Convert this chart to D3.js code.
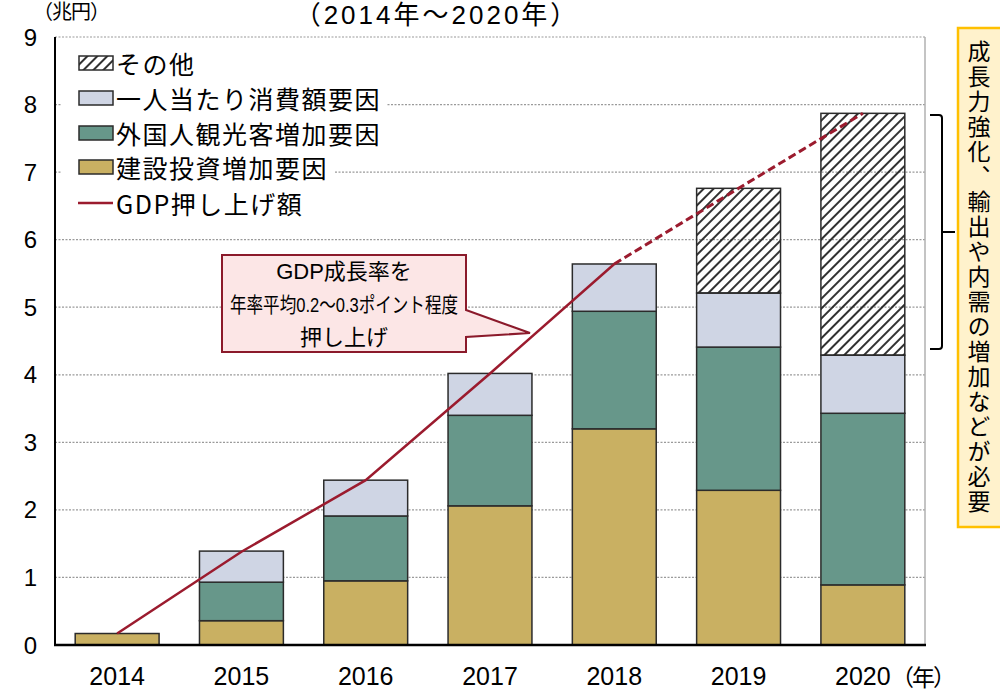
<!DOCTYPE html>
<html lang="ja">
<head>
<meta charset="utf-8">
<script src="https://cdn.jsdelivr.net/npm/d3@7"></script>
<style>
  html, body { margin: 0; padding: 0; background: #fff; }
  svg { display: block; font-family: "Liberation Sans", Arial, "Noto Sans CJK JP", sans-serif; }
</style>
</head>
<body>
<svg id="chart" width="1000" height="693"></svg>
<script>
// 年別の内訳（兆円）
const years = ["2014", "2015", "2016", "2017", "2018", "2019", "2020"];
const construction = [0.17, 0.36, 0.95, 2.06, 3.20, 2.29, 0.89];   // 建設投資増加要因
const visitors     = [0.00, 0.57, 0.96, 1.34, 1.74, 2.12, 2.54];   // 外国人観光客増加要因
const perCapita    = [0.00, 0.46, 0.53, 0.62, 0.70, 0.80, 0.86];   // 一人当たり消費額要因
const others       = [0.00, 0.00, 0.00, 0.00, 0.00, 1.55, 3.58];   // その他
const gdpBoost     = [0.17, 1.38, 2.44, 4.02, 5.64, 6.76, 7.87];   // GDP押し上げ額
const yTicks = [0, 1, 2, 3, 4, 5, 6, 7, 8, 9];

const seriesKeys = ["construction", "visitors", "perCapita", "others"];
const seriesNames = {
  construction: "建設投資増加要因",
  visitors: "外国人観光客増加要因",
  perCapita: "一人当たり消費額要因",
  others: "その他"
};
const fills = {
  construction: "#C9B062",
  visitors: "#67978A",
  perCapita: "#CFD5E4",
  others: "url(#hatch)"
};

const rows = years.map((y, i) => ({
  year: y,
  construction: construction[i],
  visitors: visitors[i],
  perCapita: perCapita[i],
  others: others[i]
}));

const svg = d3.select("#chart");
const jp = '"Noto Sans CJK JP", "Liberation Sans", sans-serif';
const lat = '"Liberation Sans", Arial, "Noto Sans CJK JP", sans-serif';

const plot = { left: 55, right: 925, top: 37, bottom: 645 };

const x = d3.scaleBand().domain(years)
  .range([plot.left, plot.right])
  .paddingInner(0.325).paddingOuter(0.1625);
const y = d3.scaleLinear().domain([0, 9]).range([plot.bottom, plot.top]);

// 斜線パターン
const defs = svg.append("defs");
defs.append("pattern")
  .attr("id", "hatch")
  .attr("patternUnits", "userSpaceOnUse")
  .attr("width", 7).attr("height", 7)
  .attr("patternTransform", "rotate(45)")
  .append("line")
  .attr("x1", 1).attr("y1", 0).attr("x2", 1).attr("y2", 7)
  .attr("stroke", "#1a1a1a").attr("stroke-width", 1.8);

// 目盛線（点線）
svg.append("g").selectAll("line").data(yTicks.filter(d => d > 0)).join("line")
  .attr("x1", plot.left).attr("x2", plot.right)
  .attr("y1", d => y(d)).attr("y2", d => y(d))
  .attr("stroke", "#9a9a9a").attr("stroke-width", 1.2)
  .attr("stroke-dasharray", "2,1.5");

// 右枠
svg.append("line")
  .attr("x1", plot.right).attr("x2", plot.right)
  .attr("y1", plot.top).attr("y2", plot.bottom)
  .attr("stroke", "#b0b0b0").attr("stroke-width", 1.5);

// 積み上げ棒
const stack = d3.stack().keys(seriesKeys)(rows);
svg.append("g").selectAll("g").data(stack).join("g")
  .attr("fill", d => fills[d.key])
  .selectAll("rect").data(d => d.filter(p => p[1] - p[0] > 0)).join("rect")
  .attr("x", d => x(d.data.year))
  .attr("width", x.bandwidth())
  .attr("y", d => y(d[1]))
  .attr("height", d => y(d[0]) - y(d[1]))
  .attr("stroke", "#2b2b2b").attr("stroke-width", 1.5);

// 軸
svg.append("line")
  .attr("x1", plot.left).attr("x2", plot.left)
  .attr("y1", plot.top).attr("y2", plot.bottom)
  .attr("stroke", "#000").attr("stroke-width", 2);
svg.append("line")
  .attr("x1", plot.left - 1).attr("x2", plot.right + 1)
  .attr("y1", plot.bottom).attr("y2", plot.bottom)
  .attr("stroke", "#000").attr("stroke-width", 2.5);

svg.append("g").selectAll("text").data(yTicks).join("text")
  .attr("x", 37).attr("y", d => y(d))
  .attr("text-anchor", "end").attr("dominant-baseline", "central")
  .attr("font-family", lat).attr("font-size", 24).attr("fill", "#000")
  .text(d => d);

svg.append("g").selectAll("text").data(years).join("text")
  .attr("x", d => x(d) + x.bandwidth() / 2).attr("y", 676)
  .attr("text-anchor", "middle").attr("dominant-baseline", "central")
  .attr("font-family", lat).attr("font-size", 25).attr("fill", "#000")
  .text(d => d);

svg.append("text")
  .attr("x", 891).attr("y", 676).attr("dominant-baseline", "central")
  .attr("font-family", jp).attr("font-size", 23).attr("letter-spacing", -2)
  .text("（年）");

svg.append("text")
  .attr("x", 33).attr("y", 19)
  .attr("font-family", lat).attr("font-size", 20).attr("letter-spacing", -1)
  .text("（兆円）");

svg.append("text")
  .attr("x", 437).attr("y", 24).attr("text-anchor", "middle")
  .attr("font-family", lat).attr("font-size", 26).attr("letter-spacing", 3)
  .text("（2014年～2020年）");

// GDP押し上げ額の線（2018年までは実線、以降は破線）
const line = d3.line()
  .x(d => x(d.year) + x.bandwidth() / 2)
  .y(d => y(d.v));
const gdpPts = years.map((yr, i) => ({ year: yr, v: gdpBoost[i] }));
const split = years.indexOf("2018");
svg.append("path")
  .datum(gdpPts.slice(0, split + 1))
  .attr("d", line).attr("fill", "none")
  .attr("stroke", "#9B1B2E").attr("stroke-width", 2.5);
svg.append("path")
  .datum(gdpPts.slice(split))
  .attr("d", line).attr("fill", "none")
  .attr("stroke", "#9B1B2E").attr("stroke-width", 3)
  .attr("stroke-dasharray", "8,4");

// 凡例
const legendItems = [
  { key: "others", label: seriesNames.others },
  { key: "perCapita", label: seriesNames.perCapita },
  { key: "visitors", label: seriesNames.visitors },
  { key: "construction", label: seriesNames.construction },
  { key: "line", label: "GDP押し上げ額" }
];
const legendY = [63, 98, 133, 167, 203];
const lg = svg.append("g");
legendItems.forEach((it, i) => {
  const g = lg.append("g").attr("transform", `translate(0,${legendY[i]})`);
  const bg = g.append("rect").attr("x", 62).attr("y", -15).attr("height", 30).attr("fill", "#fff");
  if (it.key === "line") {
    g.append("line").attr("x1", 78).attr("x2", 113).attr("y1", 0).attr("y2", 0)
      .attr("stroke", "#9B1B2E").attr("stroke-width", 2.5);
  } else {
    g.append("rect").attr("x", 79).attr("y", -7).attr("width", 34).attr("height", 14)
      .attr("fill", fills[it.key]).attr("stroke", "#2b2b2b").attr("stroke-width", 1.5);
  }
  const t = g.append("text").attr("x", 116).attr("y", 0)
    .attr("dominant-baseline", "central")
    .attr("font-family", jp).attr("font-size", 25).attr("letter-spacing", 1.5)
    .attr("fill", "#000")
    .text(it.label);
  bg.attr("width", 116 + t.node().getComputedTextLength() + 6 - 62);
});

// 吹き出し
const callout = svg.append("g");
callout.append("path")
  .attr("d", "M222,255 H466 V310 L530,333 L466,337 V352 H222 Z")
  .attr("fill", "#FCE6E6").attr("stroke", "#8B1A2B").attr("stroke-width", 2)
  .attr("stroke-linejoin", "miter");
const calloutLines = ["GDP成長率を", "年率平均0.2～0.3ポイント程度", "押し上げ"];
callout.selectAll("text").data(calloutLines).join("text")
  .attr("x", 344).attr("y", (d, i) => 271 + i * 33)
  .attr("text-anchor", "middle").attr("dominant-baseline", "central")
  .attr("font-family", lat).attr("font-size", 22).attr("fill", "#000")
  .each(function (d, i) {
    if (i === 1) d3.select(this).attr("font-size", 21)
      .attr("textLength", 228).attr("lengthAdjust", "spacingAndGlyphs");
  })
  .text(d => d);

// 括弧
svg.append("path")
  .attr("d", "M930,115 H939 Q942,115 942,118 V346 Q942,349 939,349 H930 M942,232 H955")
  .attr("fill", "none").attr("stroke", "#000").attr("stroke-width", 2);

// 右側の注記
svg.append("rect")
  .attr("x", 958).attr("y", 28).attr("width", 60).attr("height", 499)
  .attr("fill", "#FFF2CC").attr("stroke", "#FFC000").attr("stroke-width", 2.5);
svg.append("text")
  .attr("x", 979).attr("y", 40)
  .attr("writing-mode", "vertical-rl")
  .attr("font-family", jp).attr("font-size", 23).attr("letter-spacing", 2)
  .attr("fill", "#000")
  .text("成長力強化、輸出や内需の増加などが必要");
</script>
</body>
</html>
